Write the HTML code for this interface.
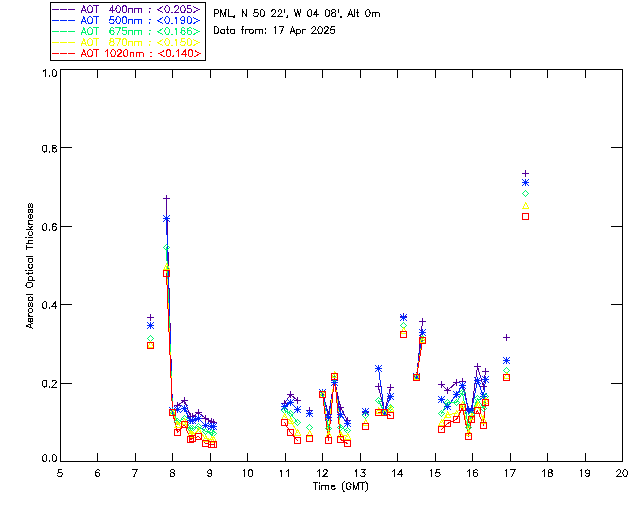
<!DOCTYPE html>
<html><head><meta charset="utf-8"><title>AOT</title>
<style>html,body{margin:0;padding:0;background:#fff;font-family:"Liberation Sans",sans-serif}svg{display:block}</style></head>
<body><svg width="640" height="512" viewBox="0 0 640 512">
<rect width="640" height="512" fill="#fff"/>
<g fill="none" stroke-width="1" stroke-linecap="square" stroke-linejoin="miter" shape-rendering="crispEdges">
<path d="M60.5 69.5 H622.5 V461.5 H60.5 Z M97.5 461.5 v-8 M97.5 69.5 v8 M135.5 461.5 v-8 M135.5 69.5 v8 M172.5 461.5 v-8 M172.5 69.5 v8 M210.5 461.5 v-8 M210.5 69.5 v8 M247.5 461.5 v-8 M247.5 69.5 v8 M285.5 461.5 v-8 M285.5 69.5 v8 M322.5 461.5 v-8 M322.5 69.5 v8 M360.5 461.5 v-8 M360.5 69.5 v8 M397.5 461.5 v-8 M397.5 69.5 v8 M435.5 461.5 v-8 M435.5 69.5 v8 M472.5 461.5 v-8 M472.5 69.5 v8 M510.5 461.5 v-8 M510.5 69.5 v8 M547.5 461.5 v-8 M547.5 69.5 v8 M585.5 461.5 v-8 M585.5 69.5 v8 M60.5 383.5 h11 M622.5 383.5 h-11 M60.5 304.5 h11 M622.5 304.5 h-11 M60.5 226.5 h11 M622.5 226.5 h-11 M60.5 147.5 h11 M622.5 147.5 h-11" stroke="#000000" />
<path d="M50.5 2.5 H205.5 V60.5 H50.5 Z" stroke="#000000" />
<path d="M52.5 9.5 h6 M60.5 9.5 h6 M68.5 9.5 h6" stroke="#52009a" />
<path d="M83.75 5.78 L81.22 12.5 M83.75 5.78 L86.28 12.5 M82.17 10.26 L85.33 10.26 M89.44 5.78 L88.8 6.1 L88.17 6.74 L87.86 7.38 L87.54 8.34 L87.54 9.94 L87.86 10.9 L88.17 11.54 L88.8 12.18 L89.44 12.5 L90.7 12.5 L91.33 12.18 L91.96 11.54 L92.28 10.9 L92.6 9.94 L92.6 8.34 L92.28 7.38 L91.96 6.74 L91.33 6.1 L90.7 5.78 L89.44 5.78 M96.07 5.78 L96.07 12.5 M93.86 5.78 L98.28 5.78 M112.82 5.78 L109.66 10.26 L114.4 10.26 M112.82 5.78 L112.82 12.5 M117.88 5.78 L116.93 6.1 L116.3 7.06 L115.98 8.66 L115.98 9.62 L116.3 11.22 L116.93 12.18 L117.88 12.5 L118.51 12.5 L119.46 12.18 L120.09 11.22 L120.4 9.62 L120.4 8.66 L120.09 7.06 L119.46 6.1 L118.51 5.78 L117.88 5.78 M124.2 5.78 L123.25 6.1 L122.62 7.06 L122.3 8.66 L122.3 9.62 L122.62 11.22 L123.25 12.18 L124.2 12.5 L124.83 12.5 L125.78 12.18 L126.41 11.22 L126.72 9.62 L126.72 8.66 L126.41 7.06 L125.78 6.1 L124.83 5.78 L124.2 5.78 M128.94 8.02 L128.94 12.5 M128.94 9.3 L129.88 8.34 L130.52 8.02 L131.46 8.02 L132.1 8.34 L132.41 9.3 L132.41 12.5 M134.94 8.02 L134.94 12.5 M134.94 9.3 L135.89 8.34 L136.52 8.02 L137.47 8.02 L138.1 8.34 L138.42 9.3 L138.42 12.5 M138.42 9.3 L139.36 8.34 L140 8.02 L140.94 8.02 L141.58 8.34 L141.89 9.3 L141.89 12.5 M149.79 8.02 L149.48 8.34 L149.79 8.66 L150.11 8.34 L149.79 8.02 M149.79 11.86 L149.48 12.18 L149.79 12.5 L150.11 12.18 L149.79 11.86 M162.75 6.74 L157.69 9.62 L162.75 12.5 M166.86 5.78 L165.91 6.1 L165.28 7.06 L164.96 8.66 L164.96 9.62 L165.28 11.22 L165.91 12.18 L166.86 12.5 L167.49 12.5 L168.44 12.18 L169.07 11.22 L169.38 9.62 L169.38 8.66 L169.07 7.06 L168.44 6.1 L167.49 5.78 L166.86 5.78 M171.91 11.86 L171.6 12.18 L171.91 12.5 L172.23 12.18 L171.91 11.86 M174.76 7.38 L174.76 7.06 L175.07 6.42 L175.39 6.1 L176.02 5.78 L177.28 5.78 L177.92 6.1 L178.23 6.42 L178.55 7.06 L178.55 7.7 L178.23 8.34 L177.6 9.3 L174.44 12.5 L178.86 12.5 M182.66 5.78 L181.71 6.1 L181.08 7.06 L180.76 8.66 L180.76 9.62 L181.08 11.22 L181.71 12.18 L182.66 12.5 L183.29 12.5 L184.24 12.18 L184.87 11.22 L185.18 9.62 L185.18 8.66 L184.87 7.06 L184.24 6.1 L183.29 5.78 L182.66 5.78 M190.87 5.78 L187.71 5.78 L187.4 8.66 L187.71 8.34 L188.66 8.02 L189.61 8.02 L190.56 8.34 L191.19 8.98 L191.5 9.94 L191.5 10.58 L191.19 11.54 L190.56 12.18 L189.61 12.5 L188.66 12.5 L187.71 12.18 L187.4 11.86 L187.08 11.22 M193.72 6.74 L198.77 9.62 L193.72 12.5" stroke="#52009a" />
<path d="M52.5 20.5 h6 M60.5 20.5 h6 M68.5 20.5 h6" stroke="#0028ff" />
<path d="M83.75 16.78 L81.22 23.5 M83.75 16.78 L86.28 23.5 M82.17 21.26 L85.33 21.26 M89.44 16.78 L88.8 17.1 L88.17 17.74 L87.86 18.38 L87.54 19.34 L87.54 20.94 L87.86 21.9 L88.17 22.54 L88.8 23.18 L89.44 23.5 L90.7 23.5 L91.33 23.18 L91.96 22.54 L92.28 21.9 L92.6 20.94 L92.6 19.34 L92.28 18.38 L91.96 17.74 L91.33 17.1 L90.7 16.78 L89.44 16.78 M96.07 16.78 L96.07 23.5 M93.86 16.78 L98.28 16.78 M113.45 16.78 L110.29 16.78 L109.98 19.66 L110.29 19.34 L111.24 19.02 L112.19 19.02 L113.14 19.34 L113.77 19.98 L114.08 20.94 L114.08 21.58 L113.77 22.54 L113.14 23.18 L112.19 23.5 L111.24 23.5 L110.29 23.18 L109.98 22.86 L109.66 22.22 M117.88 16.78 L116.93 17.1 L116.3 18.06 L115.98 19.66 L115.98 20.62 L116.3 22.22 L116.93 23.18 L117.88 23.5 L118.51 23.5 L119.46 23.18 L120.09 22.22 L120.4 20.62 L120.4 19.66 L120.09 18.06 L119.46 17.1 L118.51 16.78 L117.88 16.78 M124.2 16.78 L123.25 17.1 L122.62 18.06 L122.3 19.66 L122.3 20.62 L122.62 22.22 L123.25 23.18 L124.2 23.5 L124.83 23.5 L125.78 23.18 L126.41 22.22 L126.72 20.62 L126.72 19.66 L126.41 18.06 L125.78 17.1 L124.83 16.78 L124.2 16.78 M128.94 19.02 L128.94 23.5 M128.94 20.3 L129.88 19.34 L130.52 19.02 L131.46 19.02 L132.1 19.34 L132.41 20.3 L132.41 23.5 M134.94 19.02 L134.94 23.5 M134.94 20.3 L135.89 19.34 L136.52 19.02 L137.47 19.02 L138.1 19.34 L138.42 20.3 L138.42 23.5 M138.42 20.3 L139.36 19.34 L140 19.02 L140.94 19.02 L141.58 19.34 L141.89 20.3 L141.89 23.5 M149.79 19.02 L149.48 19.34 L149.79 19.66 L150.11 19.34 L149.79 19.02 M149.79 22.86 L149.48 23.18 L149.79 23.5 L150.11 23.18 L149.79 22.86 M162.75 17.74 L157.69 20.62 L162.75 23.5 M166.86 16.78 L165.91 17.1 L165.28 18.06 L164.96 19.66 L164.96 20.62 L165.28 22.22 L165.91 23.18 L166.86 23.5 L167.49 23.5 L168.44 23.18 L169.07 22.22 L169.38 20.62 L169.38 19.66 L169.07 18.06 L168.44 17.1 L167.49 16.78 L166.86 16.78 M171.91 22.86 L171.6 23.18 L171.91 23.5 L172.23 23.18 L171.91 22.86 M175.39 18.06 L176.02 17.74 L176.97 16.78 L176.97 23.5 M184.87 19.02 L184.55 19.98 L183.92 20.62 L182.97 20.94 L182.66 20.94 L181.71 20.62 L181.08 19.98 L180.76 19.02 L180.76 18.7 L181.08 17.74 L181.71 17.1 L182.66 16.78 L182.97 16.78 L183.92 17.1 L184.55 17.74 L184.87 19.02 L184.87 20.62 L184.55 22.22 L183.92 23.18 L182.97 23.5 L182.34 23.5 L181.39 23.18 L181.08 22.54 M188.98 16.78 L188.03 17.1 L187.4 18.06 L187.08 19.66 L187.08 20.62 L187.4 22.22 L188.03 23.18 L188.98 23.5 L189.61 23.5 L190.56 23.18 L191.19 22.22 L191.5 20.62 L191.5 19.66 L191.19 18.06 L190.56 17.1 L189.61 16.78 L188.98 16.78 M193.72 17.74 L198.77 20.62 L193.72 23.5" stroke="#0028ff" />
<path d="M52.5 31.5 h6 M60.5 31.5 h6 M68.5 31.5 h6" stroke="#00f56e" />
<path d="M83.75 27.78 L81.22 34.5 M83.75 27.78 L86.28 34.5 M82.17 32.26 L85.33 32.26 M89.44 27.78 L88.8 28.1 L88.17 28.74 L87.86 29.38 L87.54 30.34 L87.54 31.94 L87.86 32.9 L88.17 33.54 L88.8 34.18 L89.44 34.5 L90.7 34.5 L91.33 34.18 L91.96 33.54 L92.28 32.9 L92.6 31.94 L92.6 30.34 L92.28 29.38 L91.96 28.74 L91.33 28.1 L90.7 27.78 L89.44 27.78 M96.07 27.78 L96.07 34.5 M93.86 27.78 L98.28 27.78 M113.77 28.74 L113.45 28.1 L112.5 27.78 L111.87 27.78 L110.92 28.1 L110.29 29.06 L109.98 30.66 L109.98 32.26 L110.29 33.54 L110.92 34.18 L111.87 34.5 L112.19 34.5 L113.14 34.18 L113.77 33.54 L114.08 32.58 L114.08 32.26 L113.77 31.3 L113.14 30.66 L112.19 30.34 L111.87 30.34 L110.92 30.66 L110.29 31.3 L109.98 32.26 M120.4 27.78 L117.24 34.5 M115.98 27.78 L120.4 27.78 M126.09 27.78 L122.93 27.78 L122.62 30.66 L122.93 30.34 L123.88 30.02 L124.83 30.02 L125.78 30.34 L126.41 30.98 L126.72 31.94 L126.72 32.58 L126.41 33.54 L125.78 34.18 L124.83 34.5 L123.88 34.5 L122.93 34.18 L122.62 33.86 L122.3 33.22 M128.94 30.02 L128.94 34.5 M128.94 31.3 L129.88 30.34 L130.52 30.02 L131.46 30.02 L132.1 30.34 L132.41 31.3 L132.41 34.5 M134.94 30.02 L134.94 34.5 M134.94 31.3 L135.89 30.34 L136.52 30.02 L137.47 30.02 L138.1 30.34 L138.42 31.3 L138.42 34.5 M138.42 31.3 L139.36 30.34 L140 30.02 L140.94 30.02 L141.58 30.34 L141.89 31.3 L141.89 34.5 M149.79 30.02 L149.48 30.34 L149.79 30.66 L150.11 30.34 L149.79 30.02 M149.79 33.86 L149.48 34.18 L149.79 34.5 L150.11 34.18 L149.79 33.86 M162.75 28.74 L157.69 31.62 L162.75 34.5 M166.86 27.78 L165.91 28.1 L165.28 29.06 L164.96 30.66 L164.96 31.62 L165.28 33.22 L165.91 34.18 L166.86 34.5 L167.49 34.5 L168.44 34.18 L169.07 33.22 L169.38 31.62 L169.38 30.66 L169.07 29.06 L168.44 28.1 L167.49 27.78 L166.86 27.78 M171.91 33.86 L171.6 34.18 L171.91 34.5 L172.23 34.18 L171.91 33.86 M175.39 29.06 L176.02 28.74 L176.97 27.78 L176.97 34.5 M184.87 28.74 L184.55 28.1 L183.6 27.78 L182.97 27.78 L182.02 28.1 L181.39 29.06 L181.08 30.66 L181.08 32.26 L181.39 33.54 L182.02 34.18 L182.97 34.5 L183.29 34.5 L184.24 34.18 L184.87 33.54 L185.18 32.58 L185.18 32.26 L184.87 31.3 L184.24 30.66 L183.29 30.34 L182.97 30.34 L182.02 30.66 L181.39 31.3 L181.08 32.26 M191.19 28.74 L190.87 28.1 L189.92 27.78 L189.29 27.78 L188.34 28.1 L187.71 29.06 L187.4 30.66 L187.4 32.26 L187.71 33.54 L188.34 34.18 L189.29 34.5 L189.61 34.5 L190.56 34.18 L191.19 33.54 L191.5 32.58 L191.5 32.26 L191.19 31.3 L190.56 30.66 L189.61 30.34 L189.29 30.34 L188.34 30.66 L187.71 31.3 L187.4 32.26 M193.72 28.74 L198.77 31.62 L193.72 34.5" stroke="#00f56e" />
<path d="M52.5 42.5 h6 M60.5 42.5 h6 M68.5 42.5 h6" stroke="#f4ff00" />
<path d="M83.75 38.78 L81.22 45.5 M83.75 38.78 L86.28 45.5 M82.17 43.26 L85.33 43.26 M89.44 38.78 L88.8 39.1 L88.17 39.74 L87.86 40.38 L87.54 41.34 L87.54 42.94 L87.86 43.9 L88.17 44.54 L88.8 45.18 L89.44 45.5 L90.7 45.5 L91.33 45.18 L91.96 44.54 L92.28 43.9 L92.6 42.94 L92.6 41.34 L92.28 40.38 L91.96 39.74 L91.33 39.1 L90.7 38.78 L89.44 38.78 M96.07 38.78 L96.07 45.5 M93.86 38.78 L98.28 38.78 M111.24 38.78 L110.29 39.1 L109.98 39.74 L109.98 40.38 L110.29 41.02 L110.92 41.34 L112.19 41.66 L113.14 41.98 L113.77 42.62 L114.08 43.26 L114.08 44.22 L113.77 44.86 L113.45 45.18 L112.5 45.5 L111.24 45.5 L110.29 45.18 L109.98 44.86 L109.66 44.22 L109.66 43.26 L109.98 42.62 L110.61 41.98 L111.56 41.66 L112.82 41.34 L113.45 41.02 L113.77 40.38 L113.77 39.74 L113.45 39.1 L112.5 38.78 L111.24 38.78 M120.4 38.78 L117.24 45.5 M115.98 38.78 L120.4 38.78 M124.2 38.78 L123.25 39.1 L122.62 40.06 L122.3 41.66 L122.3 42.62 L122.62 44.22 L123.25 45.18 L124.2 45.5 L124.83 45.5 L125.78 45.18 L126.41 44.22 L126.72 42.62 L126.72 41.66 L126.41 40.06 L125.78 39.1 L124.83 38.78 L124.2 38.78 M128.94 41.02 L128.94 45.5 M128.94 42.3 L129.88 41.34 L130.52 41.02 L131.46 41.02 L132.1 41.34 L132.41 42.3 L132.41 45.5 M134.94 41.02 L134.94 45.5 M134.94 42.3 L135.89 41.34 L136.52 41.02 L137.47 41.02 L138.1 41.34 L138.42 42.3 L138.42 45.5 M138.42 42.3 L139.36 41.34 L140 41.02 L140.94 41.02 L141.58 41.34 L141.89 42.3 L141.89 45.5 M149.79 41.02 L149.48 41.34 L149.79 41.66 L150.11 41.34 L149.79 41.02 M149.79 44.86 L149.48 45.18 L149.79 45.5 L150.11 45.18 L149.79 44.86 M162.75 39.74 L157.69 42.62 L162.75 45.5 M166.86 38.78 L165.91 39.1 L165.28 40.06 L164.96 41.66 L164.96 42.62 L165.28 44.22 L165.91 45.18 L166.86 45.5 L167.49 45.5 L168.44 45.18 L169.07 44.22 L169.38 42.62 L169.38 41.66 L169.07 40.06 L168.44 39.1 L167.49 38.78 L166.86 38.78 M171.91 44.86 L171.6 45.18 L171.91 45.5 L172.23 45.18 L171.91 44.86 M175.39 40.06 L176.02 39.74 L176.97 38.78 L176.97 45.5 M184.55 38.78 L181.39 38.78 L181.08 41.66 L181.39 41.34 L182.34 41.02 L183.29 41.02 L184.24 41.34 L184.87 41.98 L185.18 42.94 L185.18 43.58 L184.87 44.54 L184.24 45.18 L183.29 45.5 L182.34 45.5 L181.39 45.18 L181.08 44.86 L180.76 44.22 M188.98 38.78 L188.03 39.1 L187.4 40.06 L187.08 41.66 L187.08 42.62 L187.4 44.22 L188.03 45.18 L188.98 45.5 L189.61 45.5 L190.56 45.18 L191.19 44.22 L191.5 42.62 L191.5 41.66 L191.19 40.06 L190.56 39.1 L189.61 38.78 L188.98 38.78 M193.72 39.74 L198.77 42.62 L193.72 45.5" stroke="#f4ff00" />
<path d="M52.5 53.5 h6 M60.5 53.5 h6 M68.5 53.5 h6" stroke="#ff0000" />
<path d="M83.75 49.78 L81.22 56.5 M83.75 49.78 L86.28 56.5 M82.17 54.26 L85.33 54.26 M89.44 49.78 L88.8 50.1 L88.17 50.74 L87.86 51.38 L87.54 52.34 L87.54 53.94 L87.86 54.9 L88.17 55.54 L88.8 56.18 L89.44 56.5 L90.7 56.5 L91.33 56.18 L91.96 55.54 L92.28 54.9 L92.6 53.94 L92.6 52.34 L92.28 51.38 L91.96 50.74 L91.33 50.1 L90.7 49.78 L89.44 49.78 M96.07 49.78 L96.07 56.5 M93.86 49.78 L98.28 49.78 M105.55 51.06 L106.18 50.74 L107.13 49.78 L107.13 56.5 M112.82 49.78 L111.87 50.1 L111.24 51.06 L110.92 52.66 L110.92 53.62 L111.24 55.22 L111.87 56.18 L112.82 56.5 L113.45 56.5 L114.4 56.18 L115.03 55.22 L115.35 53.62 L115.35 52.66 L115.03 51.06 L114.4 50.1 L113.45 49.78 L112.82 49.78 M117.56 51.38 L117.56 51.06 L117.88 50.42 L118.19 50.1 L118.82 49.78 L120.09 49.78 L120.72 50.1 L121.04 50.42 L121.35 51.06 L121.35 51.7 L121.04 52.34 L120.4 53.3 L117.24 56.5 L121.67 56.5 M125.46 49.78 L124.51 50.1 L123.88 51.06 L123.56 52.66 L123.56 53.62 L123.88 55.22 L124.51 56.18 L125.46 56.5 L126.09 56.5 L127.04 56.18 L127.67 55.22 L127.99 53.62 L127.99 52.66 L127.67 51.06 L127.04 50.1 L126.09 49.78 L125.46 49.78 M130.2 52.02 L130.2 56.5 M130.2 53.3 L131.15 52.34 L131.78 52.02 L132.73 52.02 L133.36 52.34 L133.68 53.3 L133.68 56.5 M136.2 52.02 L136.2 56.5 M136.2 53.3 L137.15 52.34 L137.78 52.02 L138.73 52.02 L139.36 52.34 L139.68 53.3 L139.68 56.5 M139.68 53.3 L140.63 52.34 L141.26 52.02 L142.21 52.02 L142.84 52.34 L143.16 53.3 L143.16 56.5 M151.06 52.02 L150.74 52.34 L151.06 52.66 L151.37 52.34 L151.06 52.02 M151.06 55.86 L150.74 56.18 L151.06 56.5 L151.37 56.18 L151.06 55.86 M164.01 50.74 L158.96 53.62 L164.01 56.5 M168.12 49.78 L167.17 50.1 L166.54 51.06 L166.22 52.66 L166.22 53.62 L166.54 55.22 L167.17 56.18 L168.12 56.5 L168.75 56.5 L169.7 56.18 L170.33 55.22 L170.65 53.62 L170.65 52.66 L170.33 51.06 L169.7 50.1 L168.75 49.78 L168.12 49.78 M173.18 55.86 L172.86 56.18 L173.18 56.5 L173.49 56.18 L173.18 55.86 M176.65 51.06 L177.28 50.74 L178.23 49.78 L178.23 56.5 M185.18 49.78 L182.02 54.26 L186.76 54.26 M185.18 49.78 L185.18 56.5 M190.24 49.78 L189.29 50.1 L188.66 51.06 L188.34 52.66 L188.34 53.62 L188.66 55.22 L189.29 56.18 L190.24 56.5 L190.87 56.5 L191.82 56.18 L192.45 55.22 L192.77 53.62 L192.77 52.66 L192.45 51.06 L191.82 50.1 L190.87 49.78 L190.24 49.78 M194.98 50.74 L200.04 53.62 L194.98 56.5" stroke="#ff0000" />
<path d="M214.26 9.78 L214.26 16.5 M214.26 9.78 L217.11 9.78 L218.06 10.1 L218.37 10.42 L218.69 11.06 L218.69 12.02 L218.37 12.66 L218.06 12.98 L217.11 13.3 L214.26 13.3 M220.9 9.78 L220.9 16.5 M220.9 9.78 L223.43 16.5 M225.96 9.78 L223.43 16.5 M225.96 9.78 L225.96 16.5 M228.48 9.78 L228.48 16.5 M228.48 16.5 L232.28 16.5 M234.49 16.18 L234.17 16.5 L233.86 16.18 L234.17 15.86 L234.49 16.18 L234.49 16.82 L234.17 17.46 L233.86 17.78 M242.07 9.78 L242.07 16.5 M242.07 9.78 L246.5 16.5 M246.5 9.78 L246.5 16.5 M257.56 9.78 L254.4 9.78 L254.08 12.66 L254.4 12.34 L255.34 12.02 L256.29 12.02 L257.24 12.34 L257.87 12.98 L258.19 13.94 L258.19 14.58 L257.87 15.54 L257.24 16.18 L256.29 16.5 L255.34 16.5 L254.4 16.18 L254.08 15.86 L253.76 15.22 M261.98 9.78 L261.03 10.1 L260.4 11.06 L260.08 12.66 L260.08 13.62 L260.4 15.22 L261.03 16.18 L261.98 16.5 L262.61 16.5 L263.56 16.18 L264.19 15.22 L264.51 13.62 L264.51 12.66 L264.19 11.06 L263.56 10.1 L262.61 9.78 L261.98 9.78 M271.78 11.38 L271.78 11.06 L272.09 10.42 L272.41 10.1 L273.04 9.78 L274.3 9.78 L274.94 10.1 L275.25 10.42 L275.57 11.06 L275.57 11.7 L275.25 12.34 L274.62 13.3 L271.46 16.5 L275.88 16.5 M278.1 11.38 L278.1 11.06 L278.41 10.42 L278.73 10.1 L279.36 9.78 L280.62 9.78 L281.26 10.1 L281.57 10.42 L281.89 11.06 L281.89 11.7 L281.57 12.34 L280.94 13.3 L277.78 16.5 L282.2 16.5 M284.42 9.78 L284.42 12.02 M287.58 16.18 L287.26 16.5 L286.94 16.18 L287.26 15.86 L287.58 16.18 L287.58 16.82 L287.26 17.46 L286.94 17.78 M294.53 9.78 L296.11 16.5 M297.69 9.78 L296.11 16.5 M297.69 9.78 L299.27 16.5 M300.85 9.78 L299.27 16.5 M309.38 9.78 L308.43 10.1 L307.8 11.06 L307.48 12.66 L307.48 13.62 L307.8 15.22 L308.43 16.18 L309.38 16.5 L310.01 16.5 L310.96 16.18 L311.59 15.22 L311.91 13.62 L311.91 12.66 L311.59 11.06 L310.96 10.1 L310.01 9.78 L309.38 9.78 M316.96 9.78 L313.8 14.26 L318.54 14.26 M316.96 9.78 L316.96 16.5 M327.08 9.78 L326.13 10.1 L325.5 11.06 L325.18 12.66 L325.18 13.62 L325.5 15.22 L326.13 16.18 L327.08 16.5 L327.71 16.5 L328.66 16.18 L329.29 15.22 L329.6 13.62 L329.6 12.66 L329.29 11.06 L328.66 10.1 L327.71 9.78 L327.08 9.78 M333.08 9.78 L332.13 10.1 L331.82 10.74 L331.82 11.38 L332.13 12.02 L332.76 12.34 L334.03 12.66 L334.98 12.98 L335.61 13.62 L335.92 14.26 L335.92 15.22 L335.61 15.86 L335.29 16.18 L334.34 16.5 L333.08 16.5 L332.13 16.18 L331.82 15.86 L331.5 15.22 L331.5 14.26 L331.82 13.62 L332.45 12.98 L333.4 12.66 L334.66 12.34 L335.29 12.02 L335.61 11.38 L335.61 10.74 L335.29 10.1 L334.34 9.78 L333.08 9.78 M338.14 9.78 L338.14 12.02 M341.3 16.18 L340.98 16.5 L340.66 16.18 L340.98 15.86 L341.3 16.18 L341.3 16.82 L340.98 17.46 L340.66 17.78 M350.46 9.78 L347.93 16.5 M350.46 9.78 L352.99 16.5 M348.88 14.26 L352.04 14.26 M354.57 9.78 L354.57 16.5 M357.41 9.78 L357.41 15.22 L357.73 16.18 L358.36 16.5 L358.99 16.5 M356.46 12.02 L358.68 12.02 M367.52 9.78 L366.58 10.1 L365.94 11.06 L365.63 12.66 L365.63 13.62 L365.94 15.22 L366.58 16.18 L367.52 16.5 L368.16 16.5 L369.1 16.18 L369.74 15.22 L370.05 13.62 L370.05 12.66 L369.74 11.06 L369.1 10.1 L368.16 9.78 L367.52 9.78 M372.26 12.02 L372.26 16.5 M372.26 13.3 L373.21 12.34 L373.84 12.02 L374.79 12.02 L375.42 12.34 L375.74 13.3 L375.74 16.5 M375.74 13.3 L376.69 12.34 L377.32 12.02 L378.27 12.02 L378.9 12.34 L379.22 13.3 L379.22 16.5" stroke="#000000" />
<path d="M214.26 26.78 L214.26 33.5 M214.26 26.78 L216.48 26.78 L217.42 27.1 L218.06 27.74 L218.37 28.38 L218.69 29.34 L218.69 30.94 L218.37 31.9 L218.06 32.54 L217.42 33.18 L216.48 33.5 L214.26 33.5 M224.38 29.02 L224.38 33.5 M224.38 29.98 L223.74 29.34 L223.11 29.02 L222.16 29.02 L221.53 29.34 L220.9 29.98 L220.58 30.94 L220.58 31.58 L220.9 32.54 L221.53 33.18 L222.16 33.5 L223.11 33.5 L223.74 33.18 L224.38 32.54 M227.22 26.78 L227.22 32.22 L227.54 33.18 L228.17 33.5 L228.8 33.5 M226.27 29.02 L228.48 29.02 M234.17 29.02 L234.17 33.5 M234.17 29.98 L233.54 29.34 L232.91 29.02 L231.96 29.02 L231.33 29.34 L230.7 29.98 L230.38 30.94 L230.38 31.58 L230.7 32.54 L231.33 33.18 L231.96 33.5 L232.91 33.5 L233.54 33.18 L234.17 32.54 M243.65 26.78 L243.02 26.78 L242.39 27.1 L242.07 28.06 L242.07 33.5 M241.12 29.02 L243.34 29.02 M245.55 29.02 L245.55 33.5 M245.55 30.94 L245.86 29.98 L246.5 29.34 L247.13 29.02 L248.08 29.02 M250.92 29.02 L250.29 29.34 L249.66 29.98 L249.34 30.94 L249.34 31.58 L249.66 32.54 L250.29 33.18 L250.92 33.5 L251.87 33.5 L252.5 33.18 L253.13 32.54 L253.45 31.58 L253.45 30.94 L253.13 29.98 L252.5 29.34 L251.87 29.02 L250.92 29.02 M255.66 29.02 L255.66 33.5 M255.66 30.3 L256.61 29.34 L257.24 29.02 L258.19 29.02 L258.82 29.34 L259.14 30.3 L259.14 33.5 M259.14 30.3 L260.08 29.34 L260.72 29.02 L261.66 29.02 L262.3 29.34 L262.61 30.3 L262.61 33.5 M265.46 29.02 L265.14 29.34 L265.46 29.66 L265.77 29.34 L265.46 29.02 M265.46 32.86 L265.14 33.18 L265.46 33.5 L265.77 33.18 L265.46 32.86 M273.99 28.06 L274.62 27.74 L275.57 26.78 L275.57 33.5 M283.78 26.78 L280.62 33.5 M279.36 26.78 L283.78 26.78 M292.63 26.78 L290.1 33.5 M292.63 26.78 L295.16 33.5 M291.05 31.26 L294.21 31.26 M296.74 29.02 L296.74 35.74 M296.74 29.98 L297.37 29.34 L298 29.02 L298.95 29.02 L299.58 29.34 L300.22 29.98 L300.53 30.94 L300.53 31.58 L300.22 32.54 L299.58 33.18 L298.95 33.5 L298 33.5 L297.37 33.18 L296.74 32.54 M302.74 29.02 L302.74 33.5 M302.74 30.94 L303.06 29.98 L303.69 29.34 L304.32 29.02 L305.27 29.02 M311.91 28.38 L311.91 28.06 L312.22 27.42 L312.54 27.1 L313.17 26.78 L314.44 26.78 L315.07 27.1 L315.38 27.42 L315.7 28.06 L315.7 28.7 L315.38 29.34 L314.75 30.3 L311.59 33.5 L316.02 33.5 M319.81 26.78 L318.86 27.1 L318.23 28.06 L317.91 29.66 L317.91 30.62 L318.23 32.22 L318.86 33.18 L319.81 33.5 L320.44 33.5 L321.39 33.18 L322.02 32.22 L322.34 30.62 L322.34 29.66 L322.02 28.06 L321.39 27.1 L320.44 26.78 L319.81 26.78 M324.55 28.38 L324.55 28.06 L324.86 27.42 L325.18 27.1 L325.81 26.78 L327.08 26.78 L327.71 27.1 L328.02 27.42 L328.34 28.06 L328.34 28.7 L328.02 29.34 L327.39 30.3 L324.23 33.5 L328.66 33.5 M334.34 26.78 L331.18 26.78 L330.87 29.66 L331.18 29.34 L332.13 29.02 L333.08 29.02 L334.03 29.34 L334.66 29.98 L334.98 30.94 L334.98 31.58 L334.66 32.54 L334.03 33.18 L333.08 33.5 L332.13 33.5 L331.18 33.18 L330.87 32.86 L330.55 32.22" stroke="#000000" />
<path d="M315.56 482.78 L315.56 489.5 M313.35 482.78 L317.77 482.78 M319.04 482.78 L319.35 483.1 L319.67 482.78 L319.35 482.46 L319.04 482.78 M319.35 485.02 L319.35 489.5 M321.88 485.02 L321.88 489.5 M321.88 486.3 L322.83 485.34 L323.46 485.02 L324.41 485.02 L325.04 485.34 L325.36 486.3 L325.36 489.5 M325.36 486.3 L326.31 485.34 L326.94 485.02 L327.89 485.02 L328.52 485.34 L328.83 486.3 L328.83 489.5 M331.05 486.94 L334.84 486.94 L334.84 486.3 L334.52 485.66 L334.21 485.34 L333.57 485.02 L332.63 485.02 L331.99 485.34 L331.36 485.98 L331.05 486.94 L331.05 487.58 L331.36 488.54 L331.99 489.18 L332.63 489.5 L333.57 489.5 L334.21 489.18 L334.84 488.54 M344.32 481.5 L343.69 482.14 L343.05 483.1 L342.42 484.38 L342.11 485.98 L342.11 487.26 L342.42 488.86 L343.05 490.14 L343.69 491.1 L344.32 491.74 M350.95 484.38 L350.64 483.74 L350.01 483.1 L349.37 482.78 L348.11 482.78 L347.48 483.1 L346.85 483.74 L346.53 484.38 L346.21 485.34 L346.21 486.94 L346.53 487.9 L346.85 488.54 L347.48 489.18 L348.11 489.5 L349.37 489.5 L350.01 489.18 L350.64 488.54 L350.95 487.9 L350.95 486.94 M349.37 486.94 L350.95 486.94 M353.17 482.78 L353.17 489.5 M353.17 482.78 L355.69 489.5 M358.22 482.78 L355.69 489.5 M358.22 482.78 L358.22 489.5 M362.01 482.78 L362.01 489.5 M359.8 482.78 L364.23 482.78 M365.49 481.5 L366.12 482.14 L366.75 483.1 L367.39 484.38 L367.7 485.98 L367.7 487.26 L367.39 488.86 L366.75 490.14 L366.12 491.1 L365.49 491.74" stroke="#000000" />
<path d="M61.58 469.78 L58.42 469.78 L58.1 472.66 L58.42 472.34 L59.37 472.02 L60.32 472.02 L61.26 472.34 L61.9 472.98 L62.21 473.94 L62.21 474.58 L61.9 475.54 L61.26 476.18 L60.32 476.5 L59.37 476.5 L58.42 476.18 L58.1 475.86 L57.79 475.22" stroke="#000000" />
<path d="M99.36 470.74 L99.05 470.1 L98.1 469.78 L97.47 469.78 L96.52 470.1 L95.89 471.06 L95.57 472.66 L95.57 474.26 L95.89 475.54 L96.52 476.18 L97.47 476.5 L97.78 476.5 L98.73 476.18 L99.36 475.54 L99.68 474.58 L99.68 474.26 L99.36 473.3 L98.73 472.66 L97.78 472.34 L97.47 472.34 L96.52 472.66 L95.89 473.3 L95.57 474.26" stroke="#000000" />
<path d="M137.15 469.78 L133.99 476.5 M132.72 469.78 L137.15 469.78" stroke="#000000" />
<path d="M171.77 469.78 L170.82 470.1 L170.5 470.74 L170.5 471.38 L170.82 472.02 L171.45 472.34 L172.72 472.66 L173.66 472.98 L174.3 473.62 L174.61 474.26 L174.61 475.22 L174.3 475.86 L173.98 476.18 L173.03 476.5 L171.77 476.5 L170.82 476.18 L170.5 475.86 L170.19 475.22 L170.19 474.26 L170.5 473.62 L171.14 472.98 L172.08 472.66 L173.35 472.34 L173.98 472.02 L174.3 471.38 L174.3 470.74 L173.98 470.1 L173.03 469.78 L171.77 469.78" stroke="#000000" />
<path d="M211.76 472.02 L211.45 472.98 L210.81 473.62 L209.87 473.94 L209.55 473.94 L208.6 473.62 L207.97 472.98 L207.65 472.02 L207.65 471.7 L207.97 470.74 L208.6 470.1 L209.55 469.78 L209.87 469.78 L210.81 470.1 L211.45 470.74 L211.76 472.02 L211.76 473.62 L211.45 475.22 L210.81 476.18 L209.87 476.5 L209.23 476.5 L208.29 476.18 L207.97 475.54" stroke="#000000" />
<path d="M242.91 471.06 L243.54 470.74 L244.49 469.78 L244.49 476.5 M250.18 469.78 L249.23 470.1 L248.6 471.06 L248.28 472.66 L248.28 473.62 L248.6 475.22 L249.23 476.18 L250.18 476.5 L250.81 476.5 L251.76 476.18 L252.39 475.22 L252.71 473.62 L252.71 472.66 L252.39 471.06 L251.76 470.1 L250.81 469.78 L250.18 469.78" stroke="#000000" />
<path d="M280.38 471.06 L281.01 470.74 L281.96 469.78 L281.96 476.5 M286.7 471.06 L287.33 470.74 L288.28 469.78 L288.28 476.5" stroke="#000000" />
<path d="M317.84 471.06 L318.47 470.74 L319.42 469.78 L319.42 476.5 M323.53 471.38 L323.53 471.06 L323.85 470.42 L324.16 470.1 L324.79 469.78 L326.06 469.78 L326.69 470.1 L327.01 470.42 L327.32 471.06 L327.32 471.7 L327.01 472.34 L326.37 473.3 L323.21 476.5 L327.64 476.5" stroke="#000000" />
<path d="M355.31 471.06 L355.94 470.74 L356.89 469.78 L356.89 476.5 M361.31 469.78 L364.79 469.78 L362.89 472.34 L363.84 472.34 L364.47 472.66 L364.79 472.98 L365.11 473.94 L365.11 474.58 L364.79 475.54 L364.16 476.18 L363.21 476.5 L362.26 476.5 L361.31 476.18 L361 475.86 L360.68 475.22" stroke="#000000" />
<path d="M392.78 471.06 L393.41 470.74 L394.36 469.78 L394.36 476.5 M401.31 469.78 L398.15 474.26 L402.89 474.26 M401.31 469.78 L401.31 476.5" stroke="#000000" />
<path d="M430.24 471.06 L430.87 470.74 L431.82 469.78 L431.82 476.5 M439.41 469.78 L436.25 469.78 L435.93 472.66 L436.25 472.34 L437.19 472.02 L438.14 472.02 L439.09 472.34 L439.72 472.98 L440.04 473.94 L440.04 474.58 L439.72 475.54 L439.09 476.18 L438.14 476.5 L437.19 476.5 L436.25 476.18 L435.93 475.86 L435.61 475.22" stroke="#000000" />
<path d="M467.71 471.06 L468.34 470.74 L469.29 469.78 L469.29 476.5 M477.19 470.74 L476.87 470.1 L475.93 469.78 L475.29 469.78 L474.35 470.1 L473.71 471.06 L473.4 472.66 L473.4 474.26 L473.71 475.54 L474.35 476.18 L475.29 476.5 L475.61 476.5 L476.56 476.18 L477.19 475.54 L477.51 474.58 L477.51 474.26 L477.19 473.3 L476.56 472.66 L475.61 472.34 L475.29 472.34 L474.35 472.66 L473.71 473.3 L473.4 474.26" stroke="#000000" />
<path d="M505.18 471.06 L505.81 470.74 L506.76 469.78 L506.76 476.5 M514.97 469.78 L511.81 476.5 M510.55 469.78 L514.97 469.78" stroke="#000000" />
<path d="M542.64 471.06 L543.27 470.74 L544.22 469.78 L544.22 476.5 M549.59 469.78 L548.65 470.1 L548.33 470.74 L548.33 471.38 L548.65 472.02 L549.28 472.34 L550.54 472.66 L551.49 472.98 L552.12 473.62 L552.44 474.26 L552.44 475.22 L552.12 475.86 L551.81 476.18 L550.86 476.5 L549.59 476.5 L548.65 476.18 L548.33 475.86 L548.01 475.22 L548.01 474.26 L548.33 473.62 L548.96 472.98 L549.91 472.66 L551.17 472.34 L551.81 472.02 L552.12 471.38 L552.12 470.74 L551.81 470.1 L550.86 469.78 L549.59 469.78" stroke="#000000" />
<path d="M580.11 471.06 L580.74 470.74 L581.69 469.78 L581.69 476.5 M589.59 472.02 L589.27 472.98 L588.64 473.62 L587.69 473.94 L587.38 473.94 L586.43 473.62 L585.8 472.98 L585.48 472.02 L585.48 471.7 L585.8 470.74 L586.43 470.1 L587.38 469.78 L587.69 469.78 L588.64 470.1 L589.27 470.74 L589.59 472.02 L589.59 473.62 L589.27 475.22 L588.64 476.18 L587.69 476.5 L587.06 476.5 L586.11 476.18 L585.8 475.54" stroke="#000000" />
<path d="M616.94 471.38 L616.94 471.06 L617.26 470.42 L617.58 470.1 L618.21 469.78 L619.47 469.78 L620.1 470.1 L620.42 470.42 L620.74 471.06 L620.74 471.7 L620.42 472.34 L619.79 473.3 L616.63 476.5 L621.05 476.5 M624.84 469.78 L623.9 470.1 L623.26 471.06 L622.95 472.66 L622.95 473.62 L623.26 475.22 L623.9 476.18 L624.84 476.5 L625.48 476.5 L626.42 476.18 L627.06 475.22 L627.37 473.62 L627.37 472.66 L627.06 471.06 L626.42 470.1 L625.48 469.78 L624.84 469.78" stroke="#000000" />
<path d="M44.44 454.78 L43.5 455.1 L42.86 456.06 L42.55 457.66 L42.55 458.62 L42.86 460.22 L43.5 461.18 L44.44 461.5 L45.08 461.5 L46.02 461.18 L46.66 460.22 L46.97 458.62 L46.97 457.66 L46.66 456.06 L46.02 455.1 L45.08 454.78 L44.44 454.78 M49.5 460.86 L49.18 461.18 L49.5 461.5 L49.82 461.18 L49.5 460.86 M53.92 454.78 L52.98 455.1 L52.34 456.06 L52.03 457.66 L52.03 458.62 L52.34 460.22 L52.98 461.18 L53.92 461.5 L54.56 461.5 L55.5 461.18 L56.14 460.22 L56.45 458.62 L56.45 457.66 L56.14 456.06 L55.5 455.1 L54.56 454.78 L53.92 454.78" stroke="#000000" />
<path d="M44.44 380.28 L43.5 380.6 L42.86 381.56 L42.55 383.16 L42.55 384.12 L42.86 385.72 L43.5 386.68 L44.44 387 L45.08 387 L46.02 386.68 L46.66 385.72 L46.97 384.12 L46.97 383.16 L46.66 381.56 L46.02 380.6 L45.08 380.28 L44.44 380.28 M49.5 386.36 L49.18 386.68 L49.5 387 L49.82 386.68 L49.5 386.36 M52.34 381.88 L52.34 381.56 L52.66 380.92 L52.98 380.6 L53.61 380.28 L54.87 380.28 L55.5 380.6 L55.82 380.92 L56.14 381.56 L56.14 382.2 L55.82 382.84 L55.19 383.8 L52.03 387 L56.45 387" stroke="#000000" />
<path d="M44.44 301.78 L43.5 302.1 L42.86 303.06 L42.55 304.66 L42.55 305.62 L42.86 307.22 L43.5 308.18 L44.44 308.5 L45.08 308.5 L46.02 308.18 L46.66 307.22 L46.97 305.62 L46.97 304.66 L46.66 303.06 L46.02 302.1 L45.08 301.78 L44.44 301.78 M49.5 307.86 L49.18 308.18 L49.5 308.5 L49.82 308.18 L49.5 307.86 M55.19 301.78 L52.03 306.26 L56.77 306.26 M55.19 301.78 L55.19 308.5" stroke="#000000" />
<path d="M44.44 223.78 L43.5 224.1 L42.86 225.06 L42.55 226.66 L42.55 227.62 L42.86 229.22 L43.5 230.18 L44.44 230.5 L45.08 230.5 L46.02 230.18 L46.66 229.22 L46.97 227.62 L46.97 226.66 L46.66 225.06 L46.02 224.1 L45.08 223.78 L44.44 223.78 M49.5 229.86 L49.18 230.18 L49.5 230.5 L49.82 230.18 L49.5 229.86 M56.14 224.74 L55.82 224.1 L54.87 223.78 L54.24 223.78 L53.29 224.1 L52.66 225.06 L52.34 226.66 L52.34 228.26 L52.66 229.54 L53.29 230.18 L54.24 230.5 L54.56 230.5 L55.5 230.18 L56.14 229.54 L56.45 228.58 L56.45 228.26 L56.14 227.3 L55.5 226.66 L54.56 226.34 L54.24 226.34 L53.29 226.66 L52.66 227.3 L52.34 228.26" stroke="#000000" />
<path d="M44.44 145.28 L43.5 145.6 L42.86 146.56 L42.55 148.16 L42.55 149.12 L42.86 150.72 L43.5 151.68 L44.44 152 L45.08 152 L46.02 151.68 L46.66 150.72 L46.97 149.12 L46.97 148.16 L46.66 146.56 L46.02 145.6 L45.08 145.28 L44.44 145.28 M49.5 151.36 L49.18 151.68 L49.5 152 L49.82 151.68 L49.5 151.36 M53.61 145.28 L52.66 145.6 L52.34 146.24 L52.34 146.88 L52.66 147.52 L53.29 147.84 L54.56 148.16 L55.5 148.48 L56.14 149.12 L56.45 149.76 L56.45 150.72 L56.14 151.36 L55.82 151.68 L54.87 152 L53.61 152 L52.66 151.68 L52.34 151.36 L52.03 150.72 L52.03 149.76 L52.34 149.12 L52.98 148.48 L53.92 148.16 L55.19 147.84 L55.82 147.52 L56.14 146.88 L56.14 146.24 L55.82 145.6 L54.87 145.28 L53.61 145.28" stroke="#000000" />
<path d="M43.5 71.06 L44.13 70.74 L45.08 69.78 L45.08 76.5 M49.5 75.86 L49.18 76.18 L49.5 76.5 L49.82 76.18 L49.5 75.86 M53.92 69.78 L52.98 70.1 L52.34 71.06 L52.03 72.66 L52.03 73.62 L52.34 75.22 L52.98 76.18 L53.92 76.5 L54.56 76.5 L55.5 76.18 L56.14 75.22 L56.45 73.62 L56.45 72.66 L56.14 71.06 L55.5 70.1 L54.56 69.78 L53.92 69.78" stroke="#000000" />
<path d="M26.03 325.87 L32.7 328.38 M26.03 325.87 L32.7 323.34 M30.48 327.44 L30.48 324.29 M30.16 322.08 L30.16 318.31 L29.53 318.31 L28.89 318.62 L28.57 318.94 L28.26 319.56 L28.26 320.51 L28.57 321.14 L29.21 321.77 L30.16 322.08 L30.8 322.08 L31.75 321.77 L32.38 321.14 L32.7 320.51 L32.7 319.56 L32.38 318.94 L31.75 318.31 M28.26 316.1 L32.7 316.1 M30.16 316.1 L29.21 315.78 L28.57 315.15 L28.26 314.52 L28.26 313.58 M28.26 310.75 L28.57 311.38 L29.21 312 L30.16 312.32 L30.8 312.32 L31.75 312 L32.38 311.38 L32.7 310.75 L32.7 309.8 L32.38 309.17 L31.75 308.54 L30.8 308.22 L30.16 308.22 L29.21 308.54 L28.57 309.17 L28.26 309.8 L28.26 310.75 M29.21 302.87 L28.57 303.19 L28.26 304.13 L28.26 305.07 L28.57 306.02 L29.21 306.33 L29.84 306.02 L30.16 305.39 L30.48 303.81 L30.8 303.19 L31.43 302.87 L31.75 302.87 L32.38 303.19 L32.7 304.13 L32.7 305.07 L32.38 306.02 L31.75 306.33 M28.26 299.4 L28.57 300.03 L29.21 300.66 L30.16 300.98 L30.8 300.98 L31.75 300.66 L32.38 300.03 L32.7 299.4 L32.7 298.46 L32.38 297.83 L31.75 297.2 L30.8 296.88 L30.16 296.88 L29.21 297.2 L28.57 297.83 L28.26 298.46 L28.26 299.4 M26.03 294.68 L32.7 294.68 M26.03 285.54 L26.35 286.18 L26.99 286.81 L27.62 287.12 L28.57 287.44 L30.16 287.44 L31.11 287.12 L31.75 286.81 L32.38 286.18 L32.7 285.54 L32.7 284.28 L32.38 283.65 L31.75 283.02 L31.11 282.71 L30.16 282.39 L28.57 282.39 L27.62 282.71 L26.99 283.02 L26.35 283.65 L26.03 284.28 L26.03 285.54 M28.26 280.19 L34.92 280.19 M29.21 280.19 L28.57 279.56 L28.26 278.93 L28.26 277.99 L28.57 277.36 L29.21 276.72 L30.16 276.41 L30.8 276.41 L31.75 276.72 L32.38 277.36 L32.7 277.99 L32.7 278.93 L32.38 279.56 L31.75 280.19 M26.03 273.89 L31.43 273.89 L32.38 273.57 L32.7 272.94 L32.7 272.31 M28.26 274.83 L28.26 272.63 M26.03 270.74 L26.35 270.43 L26.03 270.11 L25.72 270.43 L26.03 270.74 M28.26 270.43 L32.7 270.43 M29.21 264.44 L28.57 265.07 L28.26 265.7 L28.26 266.64 L28.57 267.27 L29.21 267.9 L30.16 268.22 L30.8 268.22 L31.75 267.9 L32.38 267.27 L32.7 266.64 L32.7 265.7 L32.38 265.07 L31.75 264.44 M28.26 258.77 L32.7 258.77 M29.21 258.77 L28.57 259.4 L28.26 260.03 L28.26 260.98 L28.57 261.61 L29.21 262.24 L30.16 262.55 L30.8 262.55 L31.75 262.24 L32.38 261.61 L32.7 260.98 L32.7 260.03 L32.38 259.4 L31.75 258.77 M26.03 256.25 L32.7 256.25 M26.03 247.43 L32.7 247.43 M26.03 249.63 L26.03 245.22 M26.03 243.65 L32.7 243.65 M29.53 243.65 L28.57 242.7 L28.26 242.07 L28.26 241.13 L28.57 240.5 L29.53 240.19 L32.7 240.19 M26.03 237.98 L26.35 237.66 L26.03 237.35 L25.72 237.66 L26.03 237.98 M28.26 237.66 L32.7 237.66 M29.21 231.68 L28.57 232.31 L28.26 232.94 L28.26 233.88 L28.57 234.51 L29.21 235.14 L30.16 235.46 L30.8 235.46 L31.75 235.14 L32.38 234.51 L32.7 233.88 L32.7 232.94 L32.38 232.31 L31.75 231.68 M26.03 229.47 L32.7 229.47 M28.26 226.32 L31.43 229.47 M30.16 228.21 L32.7 226.01 M28.26 224.12 L32.7 224.12 M29.53 224.12 L28.57 223.17 L28.26 222.54 L28.26 221.6 L28.57 220.97 L29.53 220.65 L32.7 220.65 M30.16 218.45 L30.16 214.67 L29.53 214.67 L28.89 214.98 L28.57 215.3 L28.26 215.93 L28.26 216.88 L28.57 217.5 L29.21 218.13 L30.16 218.45 L30.8 218.45 L31.75 218.13 L32.38 217.5 L32.7 216.88 L32.7 215.93 L32.38 215.3 L31.75 214.67 M29.21 209.31 L28.57 209.63 L28.26 210.57 L28.26 211.52 L28.57 212.46 L29.21 212.78 L29.84 212.46 L30.16 211.83 L30.48 210.26 L30.8 209.63 L31.43 209.31 L31.75 209.31 L32.38 209.63 L32.7 210.57 L32.7 211.52 L32.38 212.46 L31.75 212.78 M29.21 203.96 L28.57 204.27 L28.26 205.22 L28.26 206.16 L28.57 207.11 L29.21 207.42 L29.84 207.11 L30.16 206.48 L30.48 204.9 L30.8 204.27 L31.43 203.96 L31.75 203.96 L32.38 204.27 L32.7 205.22 L32.7 206.16 L32.38 207.11 L31.75 207.42" stroke="#000000" />
<path d="M166.5 198.5 L172.5 410.5 L177.5 405.5 L184.5 400.5 L190.5 416.5 L192.5 416.5 L198.5 412.5 L205.5 418.5 L211.5 421.5 L213.5 422.5 M284.5 403.5 L290.5 394.5 L297.5 400.5 M322.5 392.5 L328.5 414.5 L334.5 380.5 L340.5 407.5 L347.5 420.5 M378.5 386.5 L384.5 412.5 L390.5 387.5 M416.5 376.5 L422.5 321.5 M441.5 384.5 L447.5 390.5 L456.5 382.5 L462.5 381.5 L468.5 409.5 L471.5 408.5 L477.5 366.5 L483.5 386.5 L485.5 371.5" stroke="#52009a" />
<path d="M166.5 218.5 L172.5 410.5 L177.5 409.5 L184.5 408.5 L190.5 420.5 L192.5 420.5 L198.5 418.5 L205.5 425.5 L211.5 426.5 L213.5 426.5 M284.5 406.5 L290.5 402.5 L297.5 409.5 M322.5 392.5 L328.5 417.5 L334.5 382.5 L340.5 414.5 L347.5 423.5 M378.5 368.5 L384.5 412.5 L390.5 396.5 M416.5 376.5 L422.5 332.5 M441.5 399.5 L447.5 406.5 L456.5 394.5 L462.5 385.5 L468.5 410.5 L471.5 410.5 L477.5 380.5 L483.5 396.5 L485.5 379.5" stroke="#0028ff" />
<path d="M166.5 247.5 L172.5 411.5 L177.5 421.5 L184.5 418.5 L190.5 428.5 L192.5 428.5 L198.5 426.5 L205.5 431.5 L211.5 432.5 L213.5 433.5 M284.5 410.5 L290.5 413.5 L297.5 422.5 M322.5 393.5 L328.5 428.5 L334.5 378.5 L340.5 427.5 L347.5 430.5 M378.5 400.5 L384.5 412.5 L390.5 407.5 M416.5 376.5 L422.5 338.5 M441.5 413.5 L447.5 402.5 L456.5 402.5 L462.5 392.5 L468.5 427.5 L471.5 414.5 L477.5 398.5 L483.5 408.5 L485.5 396.5" stroke="#00f56e" />
<path d="M166.5 266.5 L172.5 412.5 L177.5 424.5 L184.5 421.5 L190.5 433.5 L192.5 434.5 L198.5 430.5 L205.5 438.5 L211.5 439.5 L213.5 439.5 M284.5 416.5 L290.5 420.5 L297.5 432.5 M322.5 394.5 L328.5 434.5 L334.5 374.5 L340.5 434.5 L347.5 436.5 M378.5 410.5 L384.5 412.5 L390.5 408.5 M416.5 376.5 L422.5 339.5 M441.5 422.5 L447.5 414.5 L456.5 413.5 L462.5 404.5 L468.5 432.5 L471.5 416.5 L477.5 404.5 L483.5 420.5 L485.5 400.5" stroke="#f4ff00" />
<path d="M166.5 273.5 L172.5 412.5 L177.5 432.5 L184.5 424.5 L190.5 439.5 L192.5 438.5 L198.5 436.5 L205.5 443.5 L211.5 444.5 L213.5 444.5 M284.5 422.5 L290.5 432.5 L297.5 440.5 M322.5 394.5 L328.5 440.5 L334.5 376.5 L340.5 439.5 L347.5 443.5 M378.5 412.5 L384.5 412.5 L390.5 415.5 M416.5 377.5 L422.5 340.5 M441.5 429.5 L447.5 423.5 L456.5 419.5 L462.5 407.5 L468.5 436.5 L471.5 419.5 L477.5 410.5 L483.5 425.5 L485.5 402.5" stroke="#ff0000" />
<path d="M150.5 317.5 m-3 0 h6 m-3 -3 v6 M166.5 198.5 m-3 0 h6 m-3 -3 v6 M172.5 410.5 m-3 0 h6 m-3 -3 v6 M177.5 405.5 m-3 0 h6 m-3 -3 v6 M184.5 400.5 m-3 0 h6 m-3 -3 v6 M190.5 416.5 m-3 0 h6 m-3 -3 v6 M192.5 416.5 m-3 0 h6 m-3 -3 v6 M198.5 412.5 m-3 0 h6 m-3 -3 v6 M205.5 418.5 m-3 0 h6 m-3 -3 v6 M211.5 421.5 m-3 0 h6 m-3 -3 v6 M213.5 422.5 m-3 0 h6 m-3 -3 v6 M284.5 403.5 m-3 0 h6 m-3 -3 v6 M290.5 394.5 m-3 0 h6 m-3 -3 v6 M297.5 400.5 m-3 0 h6 m-3 -3 v6 M309.5 410.5 m-3 0 h6 m-3 -3 v6 M322.5 392.5 m-3 0 h6 m-3 -3 v6 M328.5 414.5 m-3 0 h6 m-3 -3 v6 M334.5 380.5 m-3 0 h6 m-3 -3 v6 M340.5 407.5 m-3 0 h6 m-3 -3 v6 M347.5 420.5 m-3 0 h6 m-3 -3 v6 M365.5 412.5 m-3 0 h6 m-3 -3 v6 M378.5 386.5 m-3 0 h6 m-3 -3 v6 M384.5 412.5 m-3 0 h6 m-3 -3 v6 M390.5 387.5 m-3 0 h6 m-3 -3 v6 M403.5 316.5 m-3 0 h6 m-3 -3 v6 M416.5 376.5 m-3 0 h6 m-3 -3 v6 M422.5 321.5 m-3 0 h6 m-3 -3 v6 M441.5 384.5 m-3 0 h6 m-3 -3 v6 M447.5 390.5 m-3 0 h6 m-3 -3 v6 M456.5 382.5 m-3 0 h6 m-3 -3 v6 M462.5 381.5 m-3 0 h6 m-3 -3 v6 M468.5 409.5 m-3 0 h6 m-3 -3 v6 M471.5 408.5 m-3 0 h6 m-3 -3 v6 M477.5 366.5 m-3 0 h6 m-3 -3 v6 M483.5 386.5 m-3 0 h6 m-3 -3 v6 M485.5 371.5 m-3 0 h6 m-3 -3 v6 M506.5 337.5 m-3 0 h6 m-3 -3 v6 M525.5 173.5 m-3 0 h6 m-3 -3 v6" stroke="#52009a" />
<path d="M150.5 325.5 m-3 0 h6 m-3 -3 v6 m-3 -6 l6 6 m0 -6 l-6 6 M166.5 218.5 m-3 0 h6 m-3 -3 v6 m-3 -6 l6 6 m0 -6 l-6 6 M172.5 410.5 m-3 0 h6 m-3 -3 v6 m-3 -6 l6 6 m0 -6 l-6 6 M177.5 409.5 m-3 0 h6 m-3 -3 v6 m-3 -6 l6 6 m0 -6 l-6 6 M184.5 408.5 m-3 0 h6 m-3 -3 v6 m-3 -6 l6 6 m0 -6 l-6 6 M190.5 420.5 m-3 0 h6 m-3 -3 v6 m-3 -6 l6 6 m0 -6 l-6 6 M192.5 420.5 m-3 0 h6 m-3 -3 v6 m-3 -6 l6 6 m0 -6 l-6 6 M198.5 418.5 m-3 0 h6 m-3 -3 v6 m-3 -6 l6 6 m0 -6 l-6 6 M205.5 425.5 m-3 0 h6 m-3 -3 v6 m-3 -6 l6 6 m0 -6 l-6 6 M211.5 426.5 m-3 0 h6 m-3 -3 v6 m-3 -6 l6 6 m0 -6 l-6 6 M213.5 426.5 m-3 0 h6 m-3 -3 v6 m-3 -6 l6 6 m0 -6 l-6 6 M284.5 406.5 m-3 0 h6 m-3 -3 v6 m-3 -6 l6 6 m0 -6 l-6 6 M290.5 402.5 m-3 0 h6 m-3 -3 v6 m-3 -6 l6 6 m0 -6 l-6 6 M297.5 409.5 m-3 0 h6 m-3 -3 v6 m-3 -6 l6 6 m0 -6 l-6 6 M309.5 413.5 m-3 0 h6 m-3 -3 v6 m-3 -6 l6 6 m0 -6 l-6 6 M322.5 392.5 m-3 0 h6 m-3 -3 v6 m-3 -6 l6 6 m0 -6 l-6 6 M328.5 417.5 m-3 0 h6 m-3 -3 v6 m-3 -6 l6 6 m0 -6 l-6 6 M334.5 382.5 m-3 0 h6 m-3 -3 v6 m-3 -6 l6 6 m0 -6 l-6 6 M340.5 414.5 m-3 0 h6 m-3 -3 v6 m-3 -6 l6 6 m0 -6 l-6 6 M347.5 423.5 m-3 0 h6 m-3 -3 v6 m-3 -6 l6 6 m0 -6 l-6 6 M365.5 411.5 m-3 0 h6 m-3 -3 v6 m-3 -6 l6 6 m0 -6 l-6 6 M378.5 368.5 m-3 0 h6 m-3 -3 v6 m-3 -6 l6 6 m0 -6 l-6 6 M384.5 412.5 m-3 0 h6 m-3 -3 v6 m-3 -6 l6 6 m0 -6 l-6 6 M390.5 396.5 m-3 0 h6 m-3 -3 v6 m-3 -6 l6 6 m0 -6 l-6 6 M403.5 317.5 m-3 0 h6 m-3 -3 v6 m-3 -6 l6 6 m0 -6 l-6 6 M416.5 376.5 m-3 0 h6 m-3 -3 v6 m-3 -6 l6 6 m0 -6 l-6 6 M422.5 332.5 m-3 0 h6 m-3 -3 v6 m-3 -6 l6 6 m0 -6 l-6 6 M441.5 399.5 m-3 0 h6 m-3 -3 v6 m-3 -6 l6 6 m0 -6 l-6 6 M447.5 406.5 m-3 0 h6 m-3 -3 v6 m-3 -6 l6 6 m0 -6 l-6 6 M456.5 394.5 m-3 0 h6 m-3 -3 v6 m-3 -6 l6 6 m0 -6 l-6 6 M462.5 385.5 m-3 0 h6 m-3 -3 v6 m-3 -6 l6 6 m0 -6 l-6 6 M468.5 410.5 m-3 0 h6 m-3 -3 v6 m-3 -6 l6 6 m0 -6 l-6 6 M471.5 410.5 m-3 0 h6 m-3 -3 v6 m-3 -6 l6 6 m0 -6 l-6 6 M477.5 380.5 m-3 0 h6 m-3 -3 v6 m-3 -6 l6 6 m0 -6 l-6 6 M483.5 396.5 m-3 0 h6 m-3 -3 v6 m-3 -6 l6 6 m0 -6 l-6 6 M485.5 379.5 m-3 0 h6 m-3 -3 v6 m-3 -6 l6 6 m0 -6 l-6 6 M506.5 360.5 m-3 0 h6 m-3 -3 v6 m-3 -6 l6 6 m0 -6 l-6 6 M525.5 182.5 m-3 0 h6 m-3 -3 v6 m-3 -6 l6 6 m0 -6 l-6 6" stroke="#0028ff" />
<path d="M150.5 338.5 m-3 0 l3 -3 l3 3 l-3 3 z M166.5 247.5 m-3 0 l3 -3 l3 3 l-3 3 z M172.5 411.5 m-3 0 l3 -3 l3 3 l-3 3 z M177.5 421.5 m-3 0 l3 -3 l3 3 l-3 3 z M184.5 418.5 m-3 0 l3 -3 l3 3 l-3 3 z M190.5 428.5 m-3 0 l3 -3 l3 3 l-3 3 z M192.5 428.5 m-3 0 l3 -3 l3 3 l-3 3 z M198.5 426.5 m-3 0 l3 -3 l3 3 l-3 3 z M205.5 431.5 m-3 0 l3 -3 l3 3 l-3 3 z M211.5 432.5 m-3 0 l3 -3 l3 3 l-3 3 z M213.5 433.5 m-3 0 l3 -3 l3 3 l-3 3 z M284.5 410.5 m-3 0 l3 -3 l3 3 l-3 3 z M290.5 413.5 m-3 0 l3 -3 l3 3 l-3 3 z M297.5 422.5 m-3 0 l3 -3 l3 3 l-3 3 z M309.5 427.5 m-3 0 l3 -3 l3 3 l-3 3 z M322.5 393.5 m-3 0 l3 -3 l3 3 l-3 3 z M328.5 428.5 m-3 0 l3 -3 l3 3 l-3 3 z M334.5 378.5 m-3 0 l3 -3 l3 3 l-3 3 z M340.5 427.5 m-3 0 l3 -3 l3 3 l-3 3 z M347.5 430.5 m-3 0 l3 -3 l3 3 l-3 3 z M365.5 415.5 m-3 0 l3 -3 l3 3 l-3 3 z M378.5 400.5 m-3 0 l3 -3 l3 3 l-3 3 z M384.5 412.5 m-3 0 l3 -3 l3 3 l-3 3 z M390.5 407.5 m-3 0 l3 -3 l3 3 l-3 3 z M403.5 325.5 m-3 0 l3 -3 l3 3 l-3 3 z M416.5 376.5 m-3 0 l3 -3 l3 3 l-3 3 z M422.5 338.5 m-3 0 l3 -3 l3 3 l-3 3 z M441.5 413.5 m-3 0 l3 -3 l3 3 l-3 3 z M447.5 402.5 m-3 0 l3 -3 l3 3 l-3 3 z M456.5 402.5 m-3 0 l3 -3 l3 3 l-3 3 z M462.5 392.5 m-3 0 l3 -3 l3 3 l-3 3 z M468.5 427.5 m-3 0 l3 -3 l3 3 l-3 3 z M471.5 414.5 m-3 0 l3 -3 l3 3 l-3 3 z M477.5 398.5 m-3 0 l3 -3 l3 3 l-3 3 z M483.5 408.5 m-3 0 l3 -3 l3 3 l-3 3 z M485.5 396.5 m-3 0 l3 -3 l3 3 l-3 3 z M506.5 370.5 m-3 0 l3 -3 l3 3 l-3 3 z M525.5 193.5 m-3 0 l3 -3 l3 3 l-3 3 z" stroke="#00f56e" />
<path d="M150 341h1v1h-1zM150 342h1v1h-1zM151 342h1v1h-1zM149 343h1v1h-1zM151 343h1v1h-1zM149 344h1v1h-1zM152 344h1v1h-1zM148 345h1v1h-1zM152 345h1v1h-1zM148 346h1v1h-1zM153 346h1v1h-1zM147 347h7v1h-7z M166 263h1v1h-1zM166 264h1v1h-1zM167 264h1v1h-1zM165 265h1v1h-1zM167 265h1v1h-1zM165 266h1v1h-1zM168 266h1v1h-1zM164 267h1v1h-1zM168 267h1v1h-1zM164 268h1v1h-1zM169 268h1v1h-1zM163 269h7v1h-7z M172 409h1v1h-1zM172 410h1v1h-1zM173 410h1v1h-1zM171 411h1v1h-1zM173 411h1v1h-1zM171 412h1v1h-1zM174 412h1v1h-1zM170 413h1v1h-1zM174 413h1v1h-1zM170 414h1v1h-1zM175 414h1v1h-1zM169 415h7v1h-7z M177 421h1v1h-1zM177 422h1v1h-1zM178 422h1v1h-1zM176 423h1v1h-1zM178 423h1v1h-1zM176 424h1v1h-1zM179 424h1v1h-1zM175 425h1v1h-1zM179 425h1v1h-1zM175 426h1v1h-1zM180 426h1v1h-1zM174 427h7v1h-7z M184 418h1v1h-1zM184 419h1v1h-1zM185 419h1v1h-1zM183 420h1v1h-1zM185 420h1v1h-1zM183 421h1v1h-1zM186 421h1v1h-1zM182 422h1v1h-1zM186 422h1v1h-1zM182 423h1v1h-1zM187 423h1v1h-1zM181 424h7v1h-7z M190 430h1v1h-1zM190 431h1v1h-1zM191 431h1v1h-1zM189 432h1v1h-1zM191 432h1v1h-1zM189 433h1v1h-1zM192 433h1v1h-1zM188 434h1v1h-1zM192 434h1v1h-1zM188 435h1v1h-1zM193 435h1v1h-1zM187 436h7v1h-7z M192 431h1v1h-1zM192 432h1v1h-1zM193 432h1v1h-1zM191 433h1v1h-1zM193 433h1v1h-1zM191 434h1v1h-1zM194 434h1v1h-1zM190 435h1v1h-1zM194 435h1v1h-1zM190 436h1v1h-1zM195 436h1v1h-1zM189 437h7v1h-7z M198 427h1v1h-1zM198 428h1v1h-1zM199 428h1v1h-1zM197 429h1v1h-1zM199 429h1v1h-1zM197 430h1v1h-1zM200 430h1v1h-1zM196 431h1v1h-1zM200 431h1v1h-1zM196 432h1v1h-1zM201 432h1v1h-1zM195 433h7v1h-7z M205 435h1v1h-1zM205 436h1v1h-1zM206 436h1v1h-1zM204 437h1v1h-1zM206 437h1v1h-1zM204 438h1v1h-1zM207 438h1v1h-1zM203 439h1v1h-1zM207 439h1v1h-1zM203 440h1v1h-1zM208 440h1v1h-1zM202 441h7v1h-7z M211 436h1v1h-1zM211 437h1v1h-1zM212 437h1v1h-1zM210 438h1v1h-1zM212 438h1v1h-1zM210 439h1v1h-1zM213 439h1v1h-1zM209 440h1v1h-1zM213 440h1v1h-1zM209 441h1v1h-1zM214 441h1v1h-1zM208 442h7v1h-7z M213 436h1v1h-1zM213 437h1v1h-1zM214 437h1v1h-1zM212 438h1v1h-1zM214 438h1v1h-1zM212 439h1v1h-1zM215 439h1v1h-1zM211 440h1v1h-1zM215 440h1v1h-1zM211 441h1v1h-1zM216 441h1v1h-1zM210 442h7v1h-7z M284 413h1v1h-1zM284 414h1v1h-1zM285 414h1v1h-1zM283 415h1v1h-1zM285 415h1v1h-1zM283 416h1v1h-1zM286 416h1v1h-1zM282 417h1v1h-1zM286 417h1v1h-1zM282 418h1v1h-1zM287 418h1v1h-1zM281 419h7v1h-7z M290 417h1v1h-1zM290 418h1v1h-1zM291 418h1v1h-1zM289 419h1v1h-1zM291 419h1v1h-1zM289 420h1v1h-1zM292 420h1v1h-1zM288 421h1v1h-1zM292 421h1v1h-1zM288 422h1v1h-1zM293 422h1v1h-1zM287 423h7v1h-7z M297 429h1v1h-1zM297 430h1v1h-1zM298 430h1v1h-1zM296 431h1v1h-1zM298 431h1v1h-1zM296 432h1v1h-1zM299 432h1v1h-1zM295 433h1v1h-1zM299 433h1v1h-1zM295 434h1v1h-1zM300 434h1v1h-1zM294 435h7v1h-7z M309 430h1v1h-1zM309 431h1v1h-1zM310 431h1v1h-1zM308 432h1v1h-1zM310 432h1v1h-1zM308 433h1v1h-1zM311 433h1v1h-1zM307 434h1v1h-1zM311 434h1v1h-1zM307 435h1v1h-1zM312 435h1v1h-1zM306 436h7v1h-7z M322 391h1v1h-1zM322 392h1v1h-1zM323 392h1v1h-1zM321 393h1v1h-1zM323 393h1v1h-1zM321 394h1v1h-1zM324 394h1v1h-1zM320 395h1v1h-1zM324 395h1v1h-1zM320 396h1v1h-1zM325 396h1v1h-1zM319 397h7v1h-7z M328 431h1v1h-1zM328 432h1v1h-1zM329 432h1v1h-1zM327 433h1v1h-1zM329 433h1v1h-1zM327 434h1v1h-1zM330 434h1v1h-1zM326 435h1v1h-1zM330 435h1v1h-1zM326 436h1v1h-1zM331 436h1v1h-1zM325 437h7v1h-7z M334 371h1v1h-1zM334 372h1v1h-1zM335 372h1v1h-1zM333 373h1v1h-1zM335 373h1v1h-1zM333 374h1v1h-1zM336 374h1v1h-1zM332 375h1v1h-1zM336 375h1v1h-1zM332 376h1v1h-1zM337 376h1v1h-1zM331 377h7v1h-7z M340 431h1v1h-1zM340 432h1v1h-1zM341 432h1v1h-1zM339 433h1v1h-1zM341 433h1v1h-1zM339 434h1v1h-1zM342 434h1v1h-1zM338 435h1v1h-1zM342 435h1v1h-1zM338 436h1v1h-1zM343 436h1v1h-1zM337 437h7v1h-7z M347 433h1v1h-1zM347 434h1v1h-1zM348 434h1v1h-1zM346 435h1v1h-1zM348 435h1v1h-1zM346 436h1v1h-1zM349 436h1v1h-1zM345 437h1v1h-1zM349 437h1v1h-1zM345 438h1v1h-1zM350 438h1v1h-1zM344 439h7v1h-7z M365 419h1v1h-1zM365 420h1v1h-1zM366 420h1v1h-1zM364 421h1v1h-1zM366 421h1v1h-1zM364 422h1v1h-1zM367 422h1v1h-1zM363 423h1v1h-1zM367 423h1v1h-1zM363 424h1v1h-1zM368 424h1v1h-1zM362 425h7v1h-7z M378 407h1v1h-1zM378 408h1v1h-1zM379 408h1v1h-1zM377 409h1v1h-1zM379 409h1v1h-1zM377 410h1v1h-1zM380 410h1v1h-1zM376 411h1v1h-1zM380 411h1v1h-1zM376 412h1v1h-1zM381 412h1v1h-1zM375 413h7v1h-7z M384 409h1v1h-1zM384 410h1v1h-1zM385 410h1v1h-1zM383 411h1v1h-1zM385 411h1v1h-1zM383 412h1v1h-1zM386 412h1v1h-1zM382 413h1v1h-1zM386 413h1v1h-1zM382 414h1v1h-1zM387 414h1v1h-1zM381 415h7v1h-7z M390 405h1v1h-1zM390 406h1v1h-1zM391 406h1v1h-1zM389 407h1v1h-1zM391 407h1v1h-1zM389 408h1v1h-1zM392 408h1v1h-1zM388 409h1v1h-1zM392 409h1v1h-1zM388 410h1v1h-1zM393 410h1v1h-1zM387 411h7v1h-7z M403 327h1v1h-1zM403 328h1v1h-1zM404 328h1v1h-1zM402 329h1v1h-1zM404 329h1v1h-1zM402 330h1v1h-1zM405 330h1v1h-1zM401 331h1v1h-1zM405 331h1v1h-1zM401 332h1v1h-1zM406 332h1v1h-1zM400 333h7v1h-7z M416 373h1v1h-1zM416 374h1v1h-1zM417 374h1v1h-1zM415 375h1v1h-1zM417 375h1v1h-1zM415 376h1v1h-1zM418 376h1v1h-1zM414 377h1v1h-1zM418 377h1v1h-1zM414 378h1v1h-1zM419 378h1v1h-1zM413 379h7v1h-7z M422 336h1v1h-1zM422 337h1v1h-1zM423 337h1v1h-1zM421 338h1v1h-1zM423 338h1v1h-1zM421 339h1v1h-1zM424 339h1v1h-1zM420 340h1v1h-1zM424 340h1v1h-1zM420 341h1v1h-1zM425 341h1v1h-1zM419 342h7v1h-7z M441 419h1v1h-1zM441 420h1v1h-1zM442 420h1v1h-1zM440 421h1v1h-1zM442 421h1v1h-1zM440 422h1v1h-1zM443 422h1v1h-1zM439 423h1v1h-1zM443 423h1v1h-1zM439 424h1v1h-1zM444 424h1v1h-1zM438 425h7v1h-7z M447 411h1v1h-1zM447 412h1v1h-1zM448 412h1v1h-1zM446 413h1v1h-1zM448 413h1v1h-1zM446 414h1v1h-1zM449 414h1v1h-1zM445 415h1v1h-1zM449 415h1v1h-1zM445 416h1v1h-1zM450 416h1v1h-1zM444 417h7v1h-7z M456 410h1v1h-1zM456 411h1v1h-1zM457 411h1v1h-1zM455 412h1v1h-1zM457 412h1v1h-1zM455 413h1v1h-1zM458 413h1v1h-1zM454 414h1v1h-1zM458 414h1v1h-1zM454 415h1v1h-1zM459 415h1v1h-1zM453 416h7v1h-7z M462 401h1v1h-1zM462 402h1v1h-1zM463 402h1v1h-1zM461 403h1v1h-1zM463 403h1v1h-1zM461 404h1v1h-1zM464 404h1v1h-1zM460 405h1v1h-1zM464 405h1v1h-1zM460 406h1v1h-1zM465 406h1v1h-1zM459 407h7v1h-7z M468 429h1v1h-1zM468 430h1v1h-1zM469 430h1v1h-1zM467 431h1v1h-1zM469 431h1v1h-1zM467 432h1v1h-1zM470 432h1v1h-1zM466 433h1v1h-1zM470 433h1v1h-1zM466 434h1v1h-1zM471 434h1v1h-1zM465 435h7v1h-7z M471 413h1v1h-1zM471 414h1v1h-1zM472 414h1v1h-1zM470 415h1v1h-1zM472 415h1v1h-1zM470 416h1v1h-1zM473 416h1v1h-1zM469 417h1v1h-1zM473 417h1v1h-1zM469 418h1v1h-1zM474 418h1v1h-1zM468 419h7v1h-7z M477 401h1v1h-1zM477 402h1v1h-1zM478 402h1v1h-1zM476 403h1v1h-1zM478 403h1v1h-1zM476 404h1v1h-1zM479 404h1v1h-1zM475 405h1v1h-1zM479 405h1v1h-1zM475 406h1v1h-1zM480 406h1v1h-1zM474 407h7v1h-7z M483 417h1v1h-1zM483 418h1v1h-1zM484 418h1v1h-1zM482 419h1v1h-1zM484 419h1v1h-1zM482 420h1v1h-1zM485 420h1v1h-1zM481 421h1v1h-1zM485 421h1v1h-1zM481 422h1v1h-1zM486 422h1v1h-1zM480 423h7v1h-7z M485 397h1v1h-1zM485 398h1v1h-1zM486 398h1v1h-1zM484 399h1v1h-1zM486 399h1v1h-1zM484 400h1v1h-1zM487 400h1v1h-1zM483 401h1v1h-1zM487 401h1v1h-1zM483 402h1v1h-1zM488 402h1v1h-1zM482 403h7v1h-7z M506 372h1v1h-1zM506 373h1v1h-1zM507 373h1v1h-1zM505 374h1v1h-1zM507 374h1v1h-1zM505 375h1v1h-1zM508 375h1v1h-1zM504 376h1v1h-1zM508 376h1v1h-1zM504 377h1v1h-1zM509 377h1v1h-1zM503 378h7v1h-7z M525 202h1v1h-1zM525 203h1v1h-1zM526 203h1v1h-1zM524 204h1v1h-1zM526 204h1v1h-1zM524 205h1v1h-1zM527 205h1v1h-1zM523 206h1v1h-1zM527 206h1v1h-1zM523 207h1v1h-1zM528 207h1v1h-1zM522 208h7v1h-7z" stroke="none" fill="#f4ff00"/>
<path d="M150.5 345.5 m-3 -3 h6 v6 h-6 z M166.5 273.5 m-3 -3 h6 v6 h-6 z M172.5 412.5 m-3 -3 h6 v6 h-6 z M177.5 432.5 m-3 -3 h6 v6 h-6 z M184.5 424.5 m-3 -3 h6 v6 h-6 z M190.5 439.5 m-3 -3 h6 v6 h-6 z M192.5 438.5 m-3 -3 h6 v6 h-6 z M198.5 436.5 m-3 -3 h6 v6 h-6 z M205.5 443.5 m-3 -3 h6 v6 h-6 z M211.5 444.5 m-3 -3 h6 v6 h-6 z M213.5 444.5 m-3 -3 h6 v6 h-6 z M284.5 422.5 m-3 -3 h6 v6 h-6 z M290.5 432.5 m-3 -3 h6 v6 h-6 z M297.5 440.5 m-3 -3 h6 v6 h-6 z M309.5 438.5 m-3 -3 h6 v6 h-6 z M322.5 394.5 m-3 -3 h6 v6 h-6 z M328.5 440.5 m-3 -3 h6 v6 h-6 z M334.5 376.5 m-3 -3 h6 v6 h-6 z M340.5 439.5 m-3 -3 h6 v6 h-6 z M347.5 443.5 m-3 -3 h6 v6 h-6 z M365.5 426.5 m-3 -3 h6 v6 h-6 z M378.5 412.5 m-3 -3 h6 v6 h-6 z M384.5 412.5 m-3 -3 h6 v6 h-6 z M390.5 415.5 m-3 -3 h6 v6 h-6 z M403.5 334.5 m-3 -3 h6 v6 h-6 z M416.5 377.5 m-3 -3 h6 v6 h-6 z M422.5 340.5 m-3 -3 h6 v6 h-6 z M441.5 429.5 m-3 -3 h6 v6 h-6 z M447.5 423.5 m-3 -3 h6 v6 h-6 z M456.5 419.5 m-3 -3 h6 v6 h-6 z M462.5 407.5 m-3 -3 h6 v6 h-6 z M468.5 436.5 m-3 -3 h6 v6 h-6 z M471.5 419.5 m-3 -3 h6 v6 h-6 z M477.5 410.5 m-3 -3 h6 v6 h-6 z M483.5 425.5 m-3 -3 h6 v6 h-6 z M485.5 402.5 m-3 -3 h6 v6 h-6 z M506.5 377.5 m-3 -3 h6 v6 h-6 z M525.5 216.5 m-3 -3 h6 v6 h-6 z" stroke="#ff0000" />
</g></svg></body></html>
